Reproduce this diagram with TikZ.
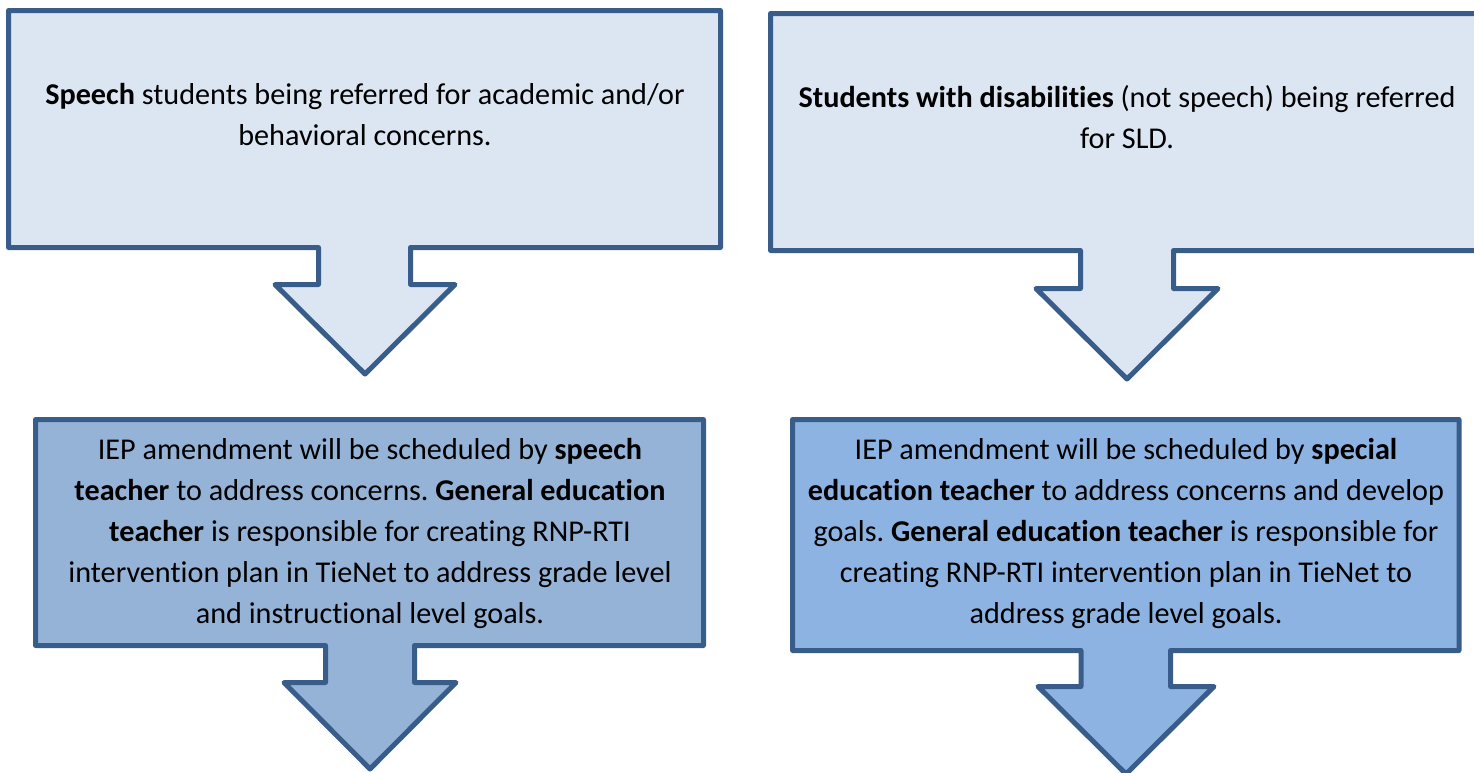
\documentclass[tikz,border=0pt]{standalone}
\usepackage{fontspec}
\setmainfont{Carlito}[Ligatures=NoCommon]
\usepackage{xcolor}
\frenchspacing

\definecolor{edgeblue}{HTML}{385D8A}
\definecolor{paleblue}{HTML}{DCE6F2}
\definecolor{midblue}{HTML}{95B3D7}
\definecolor{brightblue}{HTML}{8DB3E2}

\begin{document}
\begin{tikzpicture}[x=0.5pt, y=-0.5pt,
    callout/.style={draw=edgeblue, line width=2.5pt, line join=round},
    txt/.style={align=center, font=\fontsize{15.1}{20.5}\selectfont}]
  \useasboundingbox (0,0) rectangle (1474,772);
  \clip (0,0) rectangle (1474,772);

  % top row: referral boxes
  \draw[callout, fill=paleblue] (8.5,10.5) -- (720.5,10.5) -- (720.5,247.5)
    -- (410.5,247.5) -- (410.5,284.5) -- (455,284.5) -- (365,374)
    -- (275,284.5) -- (318.5,284.5) -- (318.5,247.5) -- (8.5,247.5) -- cycle;
  \draw[callout, fill=paleblue] (770.5,13.5) -- (1483.5,13.5) -- (1483.5,250.5)
    -- (1173.5,250.5) -- (1173.5,288.5) -- (1218,288.5) -- (1127,379)
    -- (1036,288.5) -- (1080.5,288.5) -- (1080.5,250.5) -- (770.5,250.5) -- cycle;

  % bottom row: who does what
  \draw[callout, fill=midblue] (35.5,419.5) -- (703.5,419.5) -- (703.5,645.5)
    -- (414.5,645.5) -- (414.5,682.5) -- (456,682.5) -- (370,769)
    -- (284,682.5) -- (325.5,682.5) -- (325.5,645.5) -- (35.5,645.5) -- cycle;
  \draw[callout, fill=brightblue] (792.5,419.5) -- (1459,419.5) -- (1459,650.5)
    -- (1170.5,650.5) -- (1170.5,686.5) -- (1214,686.5) -- (1126,774)
    -- (1038,686.5) -- (1081,686.5) -- (1081,650.5) -- (792.5,650.5) -- cycle;

  \node[txt] (speech) at (365,114.5)
    {\textbf{Speech} students being referred for academic and/or\\
     behavioral concerns.};
  \node[txt] (swd) at (1127,117.5)
    {\textbf{Students with disabilities} (not speech) being referred\\
     for SLD.};
  \node[txt] (speechplan) at (370,533)
    {IEP amendment will be scheduled by \textbf{speech}\\
     \textbf{teacher} to address concerns. \textbf{General education}\\
     \textbf{teacher} is responsible for creating RNP-RTI\\
     intervention plan in TieNet to address grade level\\
     and instructional level goals.};
  \node[txt] (swdplan) at (1126,533)
    {IEP amendment will be scheduled by \textbf{special}\\
     \textbf{education teacher} to address concerns and develop\\
     goals. \textbf{General education teacher} is responsible for\\
     creating RNP-RTI intervention plan in TieNet to\\
     address grade level goals.};
\end{tikzpicture}
\end{document}
